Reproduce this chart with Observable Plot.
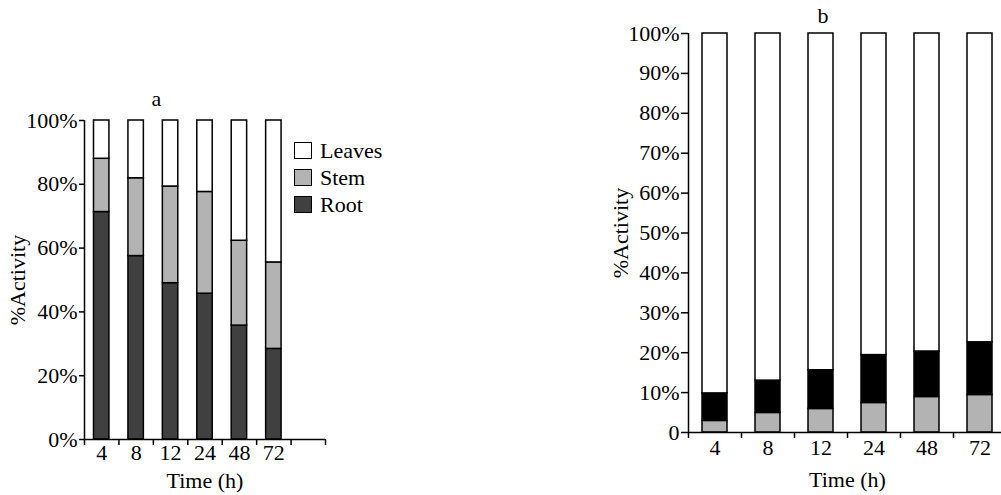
<!DOCTYPE html>
<html>
<head>
<meta charset="utf-8">
<script src="https://cdn.jsdelivr.net/npm/d3@7"></script>
<script src="https://cdn.jsdelivr.net/npm/@observablehq/plot@0.6"></script>
<style>
  html, body { margin: 0; padding: 0; background: #fff; overflow: hidden; }
  #wrap { position: relative; width: 1001px; height: 495px; font-family: "Liberation Serif", serif; }
  #wrap svg { position: absolute; top: 0; overflow: visible; font-family: "Liberation Serif", serif !important; }
  #wrap svg text { font-family: "Liberation Serif", serif !important; }
  .leg { position: absolute; left: 294px; font-size: 22px; color: #000; font-family: "Liberation Serif", serif; }
  .leg div { display: flex; align-items: center; height: 27px; }
  .leg span.sw { display: inline-block; width: 16px; height: 15px; border: 1.5px solid #000; margin-right: 8px; }
</style>
</head>
<body>
<div id="wrap"></div>
<script>
// ---- data ----
const times = ["4", "8", "12", "24", "48", "72"];
// chart a (% of activity)
const rootA   = [71.3, 57.5, 49.0, 45.7, 35.7, 28.4];
const stemA   = [16.7, 24.4, 30.3, 31.9, 26.6, 27.1];
const leavesA = [12.0, 18.1, 20.7, 22.4, 37.7, 44.5];
const seriesA = ["Root", "Stem", "Leaves"];
const colorsA = ["#404040", "#b3b3b3", "#ffffff"];
// chart b (% of activity)
const grayB   = [2.9, 4.9, 5.9, 7.4, 8.9, 9.4];
const blackB  = [6.9, 8.1, 9.7, 12.0, 11.4, 13.2];
const whiteB  = [90.2, 87.0, 84.4, 80.6, 79.7, 77.4];
const seriesB = ["Stem", "Root", "Leaves"];
const colorsB = ["#b3b3b3", "#000000", "#ffffff"];
const yTicksA = [0, 20, 40, 60, 80, 100];
const yTicksB = [0, 10, 20, 30, 40, 50, 60, 70, 80, 90, 100];

function rows(seriesNames, arrays) {
  const out = [];
  seriesNames.forEach((s, k) => arrays[k].forEach((v, i) => out.push({i, x1: i, x2: i + 1, series: s, value: v})));
  return out;
}
const dataA = rows(seriesA, [rootA, stemA, leavesA]);
const dataB = rows(seriesB, [grayB, blackB, whiteB]);

const wrap = document.getElementById("wrap");
const font = {fontFamily: "'Liberation Serif', serif", fontSize: "22px", color: "#000", background: "transparent"};

function chart({data, series, colors, nBands, yTicks, yFormat, width, height, margins, inset, title, titleDx, titleDy, ylabelOffset, xlabelOffset, yTickSize, xTickPadding}) {
  return Plot.plot({
    width, height,
    marginLeft: margins[0], marginRight: margins[1], marginTop: margins[2], marginBottom: margins[3],
    style: font,
    x: {type: "linear", domain: [0, nBands]},
    y: {domain: [0, 100]},
    color: {domain: series, range: colors},
    marks: [
      Plot.rect(data, Plot.stackY({x1: "x1", x2: "x2", y: "value", fill: "series", order: null,
        stroke: "#000", strokeWidth: 1.5, insetLeft: inset, insetRight: inset})),
      Plot.ruleY([0], {stroke: "#000", strokeWidth: 1.5}),
      Plot.ruleX([0], {stroke: "#000", strokeWidth: 1.5}),
      Plot.axisY({ticks: yTicks, tickFormat: yFormat, tickSize: yTickSize, tickPadding: 2, strokeWidth: 1.5,
        label: "%Activity", labelAnchor: "center", labelArrow: "none", labelOffset: ylabelOffset}),
      Plot.axisX({ticks: d3.range(nBands + 1), tickFormat: () => "", tickSize: 6, strokeWidth: 1.5, label: null}),
      Plot.axisX({ticks: times.map((t, i) => i + 0.5), tickFormat: d => times[Math.floor(d)], tickSize: 0, tickPadding: xTickPadding,
        label: "Time (h)", labelAnchor: "center", labelArrow: "none", labelOffset: xlabelOffset}),
      Plot.text([title], {frameAnchor: "top-left", lineAnchor: "middle", dx: titleDx, dy: titleDy, text: d => d, fontSize: 22})
    ]
  });
}

const a = chart({data: dataA, series: seriesA, colors: colorsA, nBands: 7, yTicks: yTicksA, yFormat: d => d + "%",
  width: 420, height: 495, margins: [84, 95, 120, 56], inset: 9.5, yTickSize: 5, xTickPadding: 5,
  title: "a", titleDx: 67, titleDy: -22, ylabelOffset: 75, xlabelOffset: 48});
a.style.left = "0px";
wrap.appendChild(a);

const b = chart({data: dataB, series: seriesB, colors: colorsB, nBands: 6, yTicks: yTicksB, yFormat: d => d === 0 ? "0" : d + "%",
  width: 506, height: 495, margins: [188, 0, 33, 63], inset: 14, yTickSize: 7, xTickPadding: 7,
  title: "b", titleDx: 129, titleDy: -18, ylabelOffset: 76, xlabelOffset: 54});
b.style.left = "500px";
wrap.appendChild(b);

// legend for chart a
const leg = document.createElement("div");
leg.className = "leg";
leg.style.top = "137px";
[...seriesA].reverse().forEach(s => {
  const row = document.createElement("div");
  const sw = document.createElement("span");
  sw.className = "sw";
  sw.style.background = colorsA[seriesA.indexOf(s)];
  row.appendChild(sw);
  row.appendChild(document.createTextNode(s));
  leg.appendChild(row);
});
wrap.appendChild(leg);
</script>
</body>
</html>
